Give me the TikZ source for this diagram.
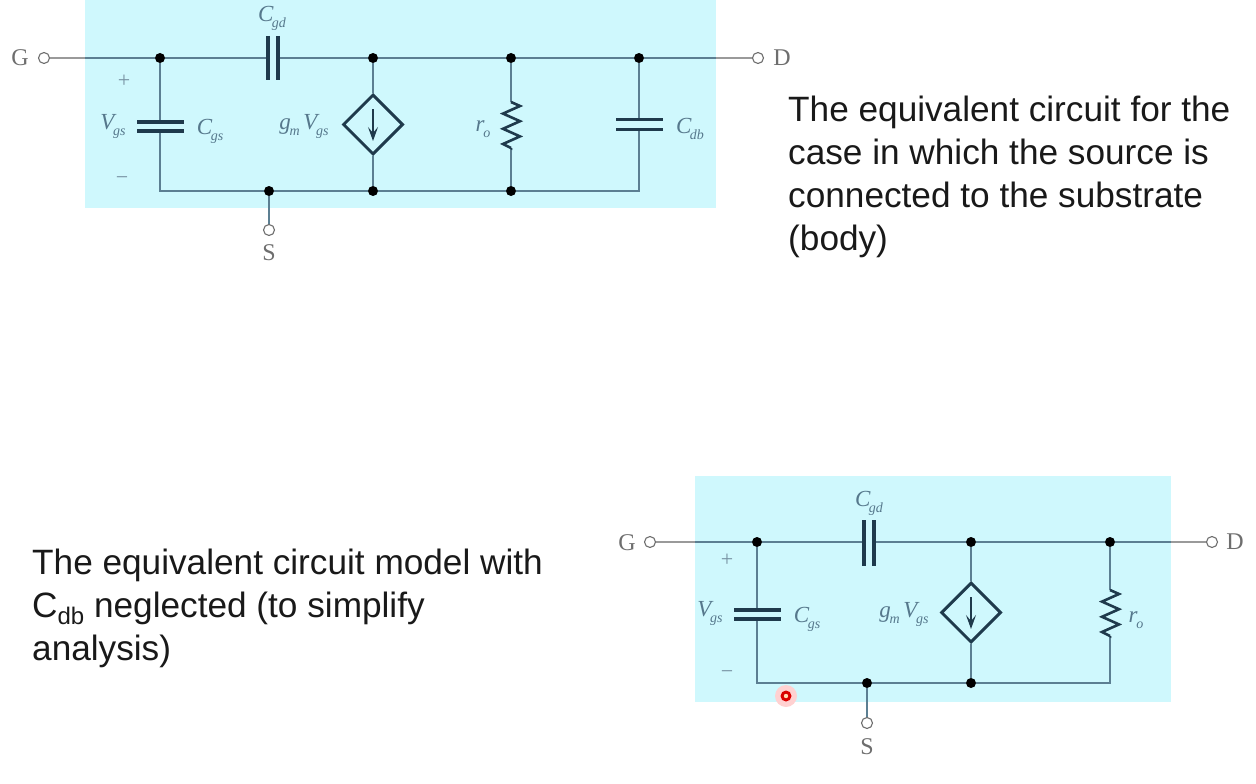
\documentclass[tikz,border=0pt]{standalone}
\usepackage{fontspec}
\setmainfont{Liberation Sans}
\newfontfamily\circfont{Liberation Serif}
\usetikzlibrary{shapes.geometric,arrows.meta}
\definecolor{panelbg}{HTML}{CFF8FD}
\definecolor{wirecol}{HTML}{5C7F92}
\definecolor{outwire}{HTML}{9A9A9A}
\definecolor{labcol}{HTML}{56788C}
\definecolor{platecol}{HTML}{1F3A4C}
\definecolor{termcol}{HTML}{6E6E6E}
\newcommand{\sublab}[2]{{\itshape #1\kern-0.06em\raisebox{-0.26em}{\fontsize{14}{14}\selectfont #2}}}
\tikzset{
  x=1pt,y=-1pt,
  panel/.style={fill=panelbg,draw=none},
  wire/.style={draw=wirecol,line width=1.7pt},
  outer/.style={draw=outwire,line width=1.3pt},
  plate/.style={draw=platecol,line width=3.2pt},
  res/.style={draw=platecol,line width=2.6pt,line join=miter},
  dot/.style={circle,fill=black,inner sep=0pt,minimum size=10pt},
  term/.style={circle,draw=termcol,fill=white,line width=1.1pt,inner sep=0pt,minimum size=11pt},
  src/.style={diamond,draw=platecol,line width=3pt,fill=panelbg,inner sep=0pt,minimum width=60pt,minimum height=60pt,aspect=1},
  flow/.style={draw=platecol,line width=1.4pt,-{Stealth[length=14pt,width=10pt,inset=6pt]}},
  lab/.style={text=labcol,font=\circfont\fontsize{23}{23}\selectfont,inner sep=0pt},
  pin/.style={text=termcol,font=\circfont\fontsize{24}{24}\selectfont,inner sep=0pt},
  sign/.style={text=labcol!80,font=\circfont\fontsize{22}{22}\selectfont,inner sep=0pt},
  body/.style={text=black!90,font=\fontsize{35.2}{43}\selectfont,align=left,inner sep=0pt,anchor=north west},
}
\begin{document}
\begin{tikzpicture}
\useasboundingbox (0,0) rectangle (1256,784);
% ---------- top circuit ----------
\fill[panel] (85,0) rectangle (716,208);
\node[term] (G1) at (44,58) {};
\node[term] (D1) at (758,58) {};
\node[term] (S1) at (269,230) {};
\coordinate (G1e) at (85,58);
\coordinate (D1e) at (716,58);
\node[dot] (a1) at (160,58) {};
\node[dot] (b1) at (373,58) {};
\node[dot] (c1) at (511,58) {};
\node[dot] (d1) at (639,58) {};
\node[dot] (s1) at (269,191) {};
\node[dot] (e1) at (373,191) {};
\node[dot] (f1) at (511,191) {};
\coordinate (k1) at (160,191);
\coordinate (m1) at (639,191);
\node[src] (src1) at (373,124.5) {};
\coordinate (gdl1) at (268,58); \coordinate (gdr1) at (278,58);
\coordinate (gst1) at (160,122); \coordinate (gsb1) at (160,131);
\coordinate (dbt1) at (639,119.5); \coordinate (dbb1) at (639,129.5);
\coordinate (rt1) at (511,102); \coordinate (rb1) at (511,148);
\draw[outer] (G1) -- (G1e);
\draw[outer] (D1e) -- (D1);
\draw[wire] (G1e) -- (a1) -- (gdl1);
\draw[wire] (gdr1) -- (b1) -- (c1) -- (d1) -- (D1e);
\draw[wire] (a1) -- (gst1);
\draw[wire] (gsb1) -- (k1) -- (s1) -- (e1) -- (f1) -- (m1) -- (dbb1);
\draw[wire] (d1) -- (dbt1);
\draw[wire] (b1) -- (src1);
\draw[wire] (src1) -- (e1);
\draw[wire] (c1) -- (rt1);
\draw[wire] (rb1) -- (f1);
\draw[wire] (s1) -- (S1);
\draw[plate] (268,36) -- (268,80);
\draw[plate] (278,36) -- (278,80);
\draw[plate] (137,122) -- (184,122);
\draw[plate] (137,131) -- (184,131);
\draw[plate] (616,119.5) -- (663,119.5);
\draw[plate] (616,129.5) -- (663,129.5);
\draw[res] (rt1) -- ++(9,4) -- ++(-17,7.6) -- ++(17,7.6) -- ++(-17,7.6) -- ++(17,7.6) -- ++(-17,7.6) -- ++(8,4) -- (rb1);
\draw[flow] (373,109) -- (373,141);
\node[lab] (lgd1) at (272,18) {\sublab{C}{gd}};
\node[lab] (lgs1) at (210,131) {\sublab{C}{gs}};
\node[lab] (lvg1) at (113,126) {\sublab{V}{gs}};
\node[lab] (lgm1) at (304,126) {\sublab{g}{m}\,\sublab{V}{gs}};
\node[lab] (lro1) at (483,129) {\sublab{r}{o}};
\node[lab] (ldb1) at (690,129) {\sublab{C}{db}};
\node[sign] (plus1) at (124,81) {+};
\node[sign] (minus1) at (122,181) {\textminus};
\node[pin] (tG1) at (20,58) {G};
\node[pin] (tD1) at (782,58) {D};
\node[pin] (tS1) at (269,253) {S};
\node[body] (txt1) at (788,95.5) {The equivalent circuit for the\\case in which the source is\\connected to the substrate\\(body)};
% ---------- bottom circuit ----------
\fill[panel] (695,476) rectangle (1171,702);
\node[term] (G2) at (650,542) {};
\node[term] (D2) at (1212,542) {};
\node[term] (S2) at (867,723) {};
\coordinate (G2e) at (695,542);
\coordinate (D2e) at (1171,542);
\node[dot] (a2) at (757,542) {};
\node[dot] (b2) at (971,542) {};
\node[dot] (c2) at (1110,542) {};
\node[dot] (s2) at (867,683) {};
\node[dot] (e2) at (971,683) {};
\coordinate (k2) at (757,683);
\coordinate (m2) at (1110,683);
\node[src] (src2) at (971,612.5) {};
\coordinate (gdl2) at (864,542); \coordinate (gdr2) at (874,542);
\coordinate (gst2) at (757,610); \coordinate (gsb2) at (757,619);
\coordinate (rt2) at (1110,590); \coordinate (rb2) at (1110,636);
\draw[outer] (G2) -- (G2e);
\draw[outer] (D2e) -- (D2);
\draw[wire] (G2e) -- (a2) -- (gdl2);
\draw[wire] (gdr2) -- (b2) -- (c2) -- (D2e);
\draw[wire] (a2) -- (gst2);
\draw[wire] (gsb2) -- (k2) -- (s2) -- (e2) -- (m2) -- (rb2);
\draw[wire] (c2) -- (rt2);
\draw[wire] (b2) -- (src2);
\draw[wire] (src2) -- (e2);
\draw[wire] (s2) -- (S2);
\draw[plate] (864,520) -- (864,566);
\draw[plate] (874,520) -- (874,566);
\draw[plate] (734,610) -- (781,610);
\draw[plate] (734,619) -- (781,619);
\draw[res] (rt2) -- ++(9,4) -- ++(-17,7.6) -- ++(17,7.6) -- ++(-17,7.6) -- ++(17,7.6) -- ++(-17,7.6) -- ++(8,4) -- (rb2);
\draw[flow] (971,597) -- (971,629);
\node[lab] (lgd2) at (869,503) {\sublab{C}{gd}};
\node[lab] (lgs2) at (807,619) {\sublab{C}{gs}};
\node[lab] (lvg2) at (710,613) {\sublab{V}{gs}};
\node[lab] (lgm2) at (904,614) {\sublab{g}{m}\,\sublab{V}{gs}};
\node[lab] (lro2) at (1136,620) {\sublab{r}{o}};
\node[sign] (plus2) at (727,560) {+};
\node[sign] (minus2) at (727,675) {\textminus};
\node[pin] (tG2) at (627,543) {G};
\node[pin] (tD2) at (1235,542) {D};
\node[pin] (tS2) at (867,747) {S};
\node[body] (txt2) at (32,548.5) {The equivalent circuit model with\\C\raisebox{-0.22em}{\fontsize{24}{24}\selectfont db} neglected (to simplify\\analysis)};
% cursor marker
\fill[red!18] (786,696) circle (11);
\fill[red!85!black] (786,696) circle (5.5);
\fill[orange!30!white] (786,696) circle (2.2);
\end{tikzpicture}
\end{document}
